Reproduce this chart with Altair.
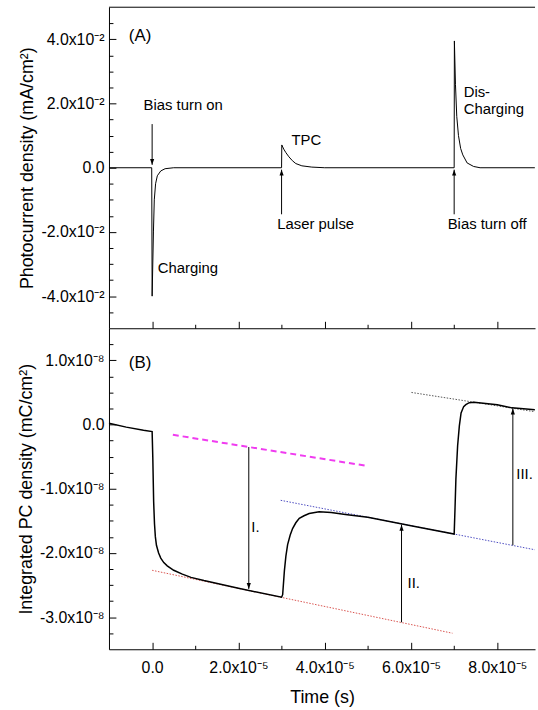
import altair as alt
import pandas as pd

# ---------------- data (time in microseconds) ----------------
# Panel (A): photocurrent density (mA/cm^2)
a_time_us = [-10.0, -0.1, 0.0, 0.15, 0.3, 0.5, 0.8, 1.2, 2.0, 3.0, 5.0,
             30.0, 30.05, 30.5, 31.0, 31.7, 32.5, 33.3, 34.7, 37.0, 40.0,
             70.0, 70.05, 70.3, 70.6, 71.0, 71.5, 72.0, 73.0, 74.5, 76.0, 88.7]
a_current = [0.0, 0.0, -0.0400, -0.0300, -0.0200, -0.0100, -0.0050, -0.0025, -0.0010, -0.0003, 0.0,
             0.0, 0.0071, 0.0058, 0.0047, 0.0034, 0.0022, 0.0013, 0.0006, 0.0002, 0.0,
             0.0, 0.0395, 0.0260, 0.0160, 0.0100, 0.0060, 0.0040, 0.0015, 0.0004, 0.0, 0.0]

# Panel (B): integrated photocurrent density (x1e-8 mC/cm^2)
b_time_us = [-10.0, -6.0, -2.0, 0.0, 0.15, 0.35, 0.55, 0.75, 1.0, 1.5, 2.0, 2.7, 3.5, 5.0, 7.0, 9.0, 12.0, 20.0, 30.0,
             30.25, 30.65, 31.0, 31.4, 32.0, 32.55, 33.3, 34.1, 35.2, 36.4, 38.7, 41.5, 44.8, 50.0, 60.0, 70.0,
             70.2, 70.4, 70.8, 71.2, 71.6, 72.2, 72.7, 73.5, 74.6, 80.0, 83.4, 88.7]
b_charge_e8 = [0.02, -0.04, -0.09, -0.11, -0.50, -1.20, -1.55, -1.75, -1.88, -2.00, -2.08, -2.15, -2.20, -2.27, -2.33, -2.38, -2.43, -2.55, -2.69,
               -2.65, -2.28, -2.05, -1.87, -1.72, -1.62, -1.53, -1.46, -1.42, -1.386, -1.36, -1.37, -1.40, -1.444, -1.575, -1.705,
               -1.30, -0.85, -0.33, -0.02, 0.18, 0.28, 0.31, 0.34, 0.347, 0.31, 0.26, 0.23]

# Guide (baseline) lines in panel (B)
guide_id = ["magenta", "red", "blue", "grey"]
guide_t0_us = [4.8, 0.0, 29.8, 60.1]
guide_t1_us = [49.4, 69.6, 88.7, 88.7]
guide_q0_e8 = [-0.16, -2.27, -1.18, 0.50]
guide_q1_e8 = [-0.64, -3.25, -1.95, 0.20]

# Arrows (from -> to, head at "to")
a_arrow_t_us = [0.0, 30.0, 70.0]
a_arrow_from = [0.0136, -0.0145, -0.0145]
a_arrow_to = [0.0009, -0.0006, -0.0006]
b_arrow_t_us = [22.4, 57.8, 83.6]
b_arrow_from_e8 = [-0.35, -3.08, -1.88]
b_arrow_to_e8 = [-2.56, -1.56, 0.25]

# Text annotations
a_text = ["Bias turn on", "Charging", "TPC", "Laser pulse", "Bias turn off", "Dis-", "Charging"]
a_text_t_us = [-2.0, 1.3, 32.3, 29.0, 68.5, 72.2, 72.2]
a_text_y = [0.0194, -0.0312, 0.0086, -0.0176, -0.0176, 0.0235, 0.0182]
b_text = ["I.", "II.", "III."]
b_text_t_us = [23.0, 59.2, 84.4]
b_text_y_e8 = [-1.59, -2.47, -0.77]
panel_letters = ["(A)", "(B)"]
letter_t_us = [-5.4, -5.4]
letter_y = [0.0410, 0.96]  # (A) in mA/cm2, (B) in 1e-8 mC/cm2

# Axis tick positions
x_major = [0.0, 2e-5, 4e-5, 6e-5, 8e-5]
x_minor = [1e-5, 3e-5, 5e-5, 7e-5]
ya_major = [-0.04, -0.02, 0.0, 0.02, 0.04]
ya_minor = [-0.045, -0.035, -0.03, -0.025, -0.015, -0.01, -0.005,
            0.005, 0.01, 0.015, 0.025, 0.03, 0.035, 0.045]
yb_major = [-3e-8, -2e-8, -1e-8, 0.0, 1e-8]
yb_minor = [-3.25e-8, -2.75e-8, -2.5e-8, -2.25e-8, -1.75e-8, -1.5e-8, -1.25e-8,
            -0.75e-8, -0.5e-8, -0.25e-8, 0.25e-8, 0.5e-8, 0.75e-8, 1.25e-8]

# ---------------- tables ----------------
US, E8 = 1e-6, 1e-8
dfA = pd.DataFrame({"t": [v * US for v in a_time_us], "j": a_current})
dfB = pd.DataFrame({"t": [v * US for v in b_time_us], "q": [v * E8 for v in b_charge_e8]})
dfG = pd.DataFrame({"g": guide_id,
                    "t0": [v * US for v in guide_t0_us], "t1": [v * US for v in guide_t1_us],
                    "q0": [v * E8 for v in guide_q0_e8], "q1": [v * E8 for v in guide_q1_e8]})
dfArrA = pd.DataFrame({"t": [v * US for v in a_arrow_t_us], "y1": a_arrow_from, "y2": a_arrow_to})
dfArrB = pd.DataFrame({"t": [v * US for v in b_arrow_t_us],
                       "y1": [v * E8 for v in b_arrow_from_e8], "y2": [v * E8 for v in b_arrow_to_e8]})
dfTxtA = pd.DataFrame({"t": [v * US for v in a_text_t_us], "y": a_text_y, "label": a_text})
dfTxtB = pd.DataFrame({"t": [v * US for v in b_text_t_us], "y": [v * E8 for v in b_text_y_e8], "label": b_text})
dfLetA = pd.DataFrame({"t": [letter_t_us[0] * US], "y": [letter_y[0]], "label": [panel_letters[0]]})
dfLetB = pd.DataFrame({"t": [letter_t_us[1] * US], "y": [letter_y[1] * E8], "label": [panel_letters[1]]})
dfOne = pd.DataFrame({"k": [0]})

# ---------------- styling ----------------
FONT = "Liberation Sans"
W, H = 430, 324
X_DOM = [-1.0e-5, 8.874e-5]
YA_DOM = [-0.05, 0.05]
YB_DOM = [-3.5e-8, 1.5e-8]
MAJ = {"expr": "-7"}
MIN = {"expr": "-4"}


def xscale():
    return alt.Scale(domain=X_DOM, nice=False, zero=False)


def yscale(dom):
    return alt.Scale(domain=dom, nice=False, zero=False)


ya_label = ("datum.value == 0 ? '0.0' : (datum.value < 0 ? '-' : '') + "
            "format(abs(datum.value) * 100, '.1f') + 'x10\u207b\u00b2'")
yb_label = ("datum.value == 0 ? '0.0' : (datum.value < 0 ? '-' : '') + "
            "format(abs(datum.value) * 1e8, '.1f') + 'x10\u207b\u2078'")
x_label = "datum.value == 0 ? '0.0' : format(datum.value * 1e5, '.1f') + 'x10\u207b\u2075'"

minor_x_axis = alt.Axis(orient="bottom", values=x_minor, labels=False, domain=False,
                        title=None, tickSize=MIN)

DOWN = "M0,0L-0.7,-2L0.7,-2Z"
UP = "M0,0L-0.7,2L0.7,2Z"


def heads(df, ys):
    down = alt.Chart(df).mark_point(shape=DOWN, size=36, filled=True, color="black",
                                    opacity=1, strokeWidth=0).encode(
        x=alt.X("t:Q", scale=xscale(), axis=None),
        y=alt.Y("y2:Q", scale=ys, axis=None),
    ).transform_filter("datum.y2 < datum.y1")
    up = alt.Chart(df).mark_point(shape=UP, size=36, filled=True, color="black",
                                  opacity=1, strokeWidth=0).encode(
        x=alt.X("t:Q", scale=xscale(), axis=None),
        y=alt.Y("y2:Q", scale=ys, axis=None),
    ).transform_filter("datum.y2 > datum.y1")
    return [down, up]


def texts(df, ys, size):
    return alt.Chart(df).mark_text(align="left", baseline="middle", font=FONT,
                                   fontSize=size, color="black").encode(
        x=alt.X("t:Q", scale=xscale(), axis=None),
        y=alt.Y("y:Q", scale=ys, axis=None),
        text="label:N",
    )


# ---------------- panel A ----------------
ysA = yscale(YA_DOM)
borderA = alt.Chart(dfOne).mark_rule(color="black", strokeWidth=1).encode(
    x=alt.value(0), x2=alt.value(W), y=alt.value(0))
lineA = alt.Chart(dfA).mark_line(color="black", strokeWidth=1).encode(
    x=alt.X("t:Q", scale=xscale(),
            axis=alt.Axis(orient="bottom", values=x_major, labels=False, title=None, tickSize=MAJ)),
    y=alt.Y("j:Q", scale=ysA,
            axis=alt.Axis(orient="left", values=ya_major, labelExpr=ya_label,
                          title="Photocurrent density (mA/cm\u00b2)", tickSize=MAJ,
                          labelPadding=12, titlePadding=4)),
)
arrowsA = alt.Chart(dfArrA).mark_rule(color="black", strokeWidth=1).encode(
    x=alt.X("t:Q", scale=xscale(), axis=minor_x_axis),
    y=alt.Y("y1:Q", scale=ysA,
            axis=alt.Axis(orient="left", values=ya_minor, labels=False, domain=False,
                          title=None, tickSize=MIN)),
    y2="y2:Q",
)
panelA = alt.layer(borderA, lineA, arrowsA, *heads(dfArrA, ysA),
                   texts(dfTxtA, ysA, 15), texts(dfLetA, ysA, 17)).resolve_axis(
    x="independent", y="independent").properties(width=W, height=H)

# ---------------- panel B ----------------
ysB = yscale(YB_DOM)
guide_style = {
    "magenta": dict(color="#f03cf0", strokeWidth=2, strokeDash=[6, 4]),
    "red": dict(color="#d9534f", strokeWidth=1, strokeDash=[1.5, 1.5]),
    "blue": dict(color="#4c4cc0", strokeWidth=1, strokeDash=[1.5, 1.5]),
    "grey": dict(color="#555555", strokeWidth=1, strokeDash=[1.5, 1.5]),
}
guides = [
    alt.Chart(dfG).mark_rule(**guide_style[g]).encode(
        x=alt.X("t0:Q", scale=xscale(), axis=None), x2="t1:Q",
        y=alt.Y("q0:Q", scale=ysB, axis=None), y2="q1:Q",
    ).transform_filter(f"datum.g == '{g}'")
    for g in guide_id
]
lineB = alt.Chart(dfB).mark_line(color="black", strokeWidth=1.5).encode(
    x=alt.X("t:Q", scale=xscale(),
            axis=alt.Axis(orient="bottom", values=x_major, labelExpr=x_label, title="Time (s)",
                          tickSize=MAJ, labelPadding=17, titlePadding=14)),
    y=alt.Y("q:Q", scale=ysB,
            axis=alt.Axis(orient="left", values=yb_major, labelExpr=yb_label,
                          title="Integrated PC density (mC/cm\u00b2)", tickSize=MAJ,
                          labelPadding=12, titlePadding=4)),
)
arrowsB = alt.Chart(dfArrB).mark_rule(color="black", strokeWidth=1).encode(
    x=alt.X("t:Q", scale=xscale(), axis=minor_x_axis),
    y=alt.Y("y1:Q", scale=ysB,
            axis=alt.Axis(orient="left", values=yb_minor, labels=False, domain=False,
                          title=None, tickSize=MIN)),
    y2="y2:Q",
)
panelB = alt.layer(*guides, lineB, arrowsB, *heads(dfArrB, ysB),
                   texts(dfTxtB, ysB, 15), texts(dfLetB, ysB, 17)).resolve_axis(
    x="independent", y="independent").properties(width=W, height=H)

chart = alt.vconcat(panelA, panelB, spacing=0, bounds="flush").properties(
    padding={"left": 17, "top": 3, "right": 0, "bottom": 0},
).configure_view(strokeWidth=0).configure_axis(
    labelFont=FONT, titleFont=FONT, labelFontSize=16, titleFontSize=18,
    titleFontWeight="normal", labelColor="black", titleColor="black",
    domainColor="black", tickColor="black", domainWidth=1, tickWidth=1, grid=False,
)

chart.save("out.html", embed_options={"renderer": "svg", "actions": False})
